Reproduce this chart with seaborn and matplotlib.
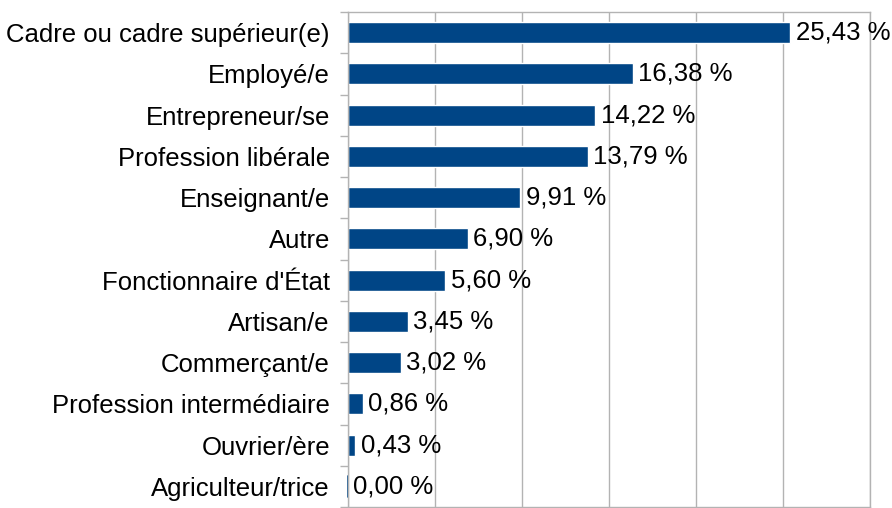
import matplotlib
matplotlib.use('Agg')
from matplotlib import pyplot as plt
import seaborn as sns
import pandas as pd
import numpy as np

# DONNEES
categories = ['Cadre ou cadre supérieur(e)', 'Employé/e', 'Entrepreneur/se',
              'Profession libérale', 'Enseignant/e', 'Autre', "Fonctionnaire d'État",
              'Artisan/e', 'Commerçant/e', 'Profession intermédiaire',
              'Ouvrier/ère', 'Agriculteur/trice']
pourcentages = [25.43, 16.38, 14.22, 13.79, 9.91, 6.90, 5.60, 3.45, 3.02, 0.86, 0.43, 0.00]

df = pd.DataFrame({'cat': categories, 'pct': pourcentages})

sns.set_style('white')
plt.rcParams['font.family'] = ['Liberation Sans', 'DejaVu Sans']
plt.rcParams['text.color'] = 'black'
plt.rcParams['ytick.color'] = 'black'

fig = plt.figure(figsize=(8.92, 5.08), dpi=100)
ax = fig.add_axes([348 / 892, 1 / 508, 522 / 892, 495 / 508])

sns.barplot(x='pct', y='cat', data=df, orient='h', color='#004586',
            width=0.51, saturation=1, ax=ax)

ax.set_xlim(0, 30)
ax.set_ylim(len(categories) - 0.5, -0.5)
ax.set_xticks(np.arange(0, 31, 5))
ax.set_xticklabels([])
ax.tick_params(axis='x', length=0)
ax.grid(axis='x', color='#b3b3b3', linewidth=1)
ax.set_axisbelow(True)
ax.set_xlabel('')
ax.set_ylabel('')

# ticks entre les categories
ax.set_yticks(np.arange(-0.5, len(categories), 1), minor=True)
ax.tick_params(axis='y', which='minor', left=True, length=6, color='#b3b3b3', width=1)
ax.tick_params(axis='y', which='major', left=False, length=0, labelsize=18.5,
               labelcolor='black', pad=13)

for s in ax.spines.values():
    s.set_color('#b3b3b3')
    s.set_linewidth(1)

# petite ligne pour la valeur nulle
ax.plot([0, 0], [11 - 0.255, 11 + 0.255], color='#004586', linewidth=1.2, clip_on=False)

for i, v in enumerate(pourcentages):
    ax.text(v + 0.3, i, ('%.2f' % v).replace('.', ',') + ' %', va='center',
            ha='left', fontsize=18.5, color='black', clip_on=False)

fig.savefig('out.png', dpi=100)
